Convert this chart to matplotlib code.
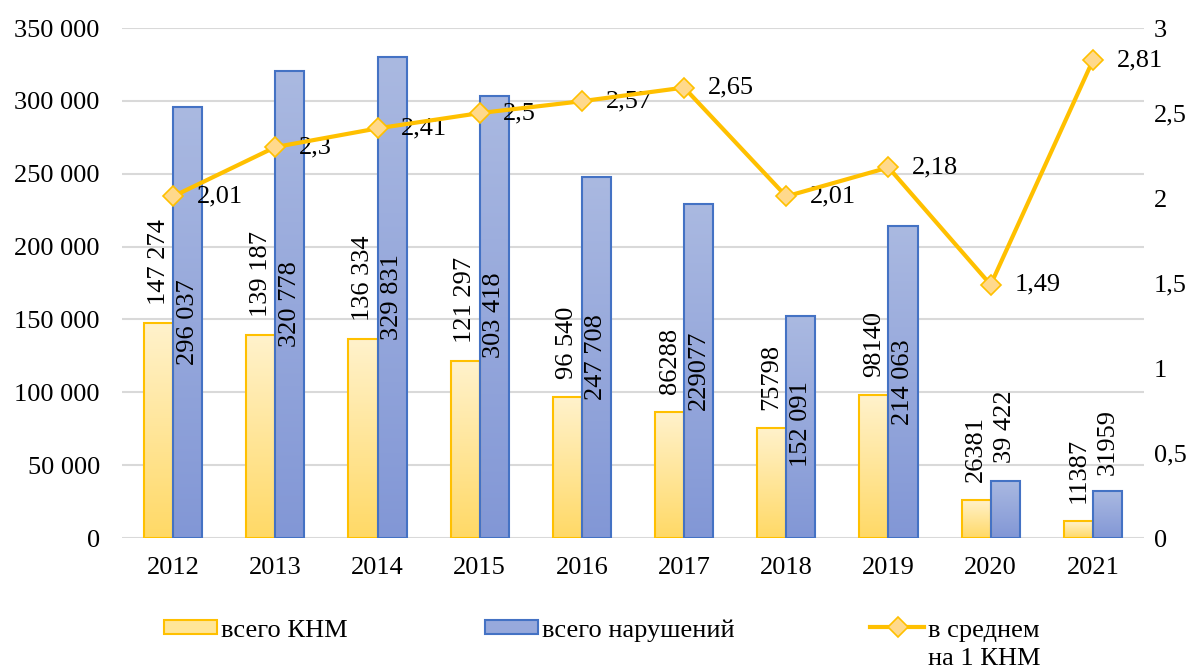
import numpy as np
import matplotlib
matplotlib.use('Agg')
import matplotlib.pyplot as plt
from matplotlib.colors import LinearSegmentedColormap
from matplotlib.lines import Line2D
from matplotlib.patches import Rectangle

years = ['2012', '2013', '2014', '2015', '2016', '2017', '2018', '2019', '2020', '2021']
knm = [147274, 139187, 136334, 121297, 96540, 86288, 75798, 98140, 26381, 11387]
violations = [296037, 320778, 329831, 303418, 247708, 229077, 152091, 214063, 39422, 31959]
avg_per_knm = [2.01, 2.3, 2.41, 2.5, 2.57, 2.65, 2.01, 2.18, 1.49, 2.81]

# label texts as printed on the original chart
knm_labels = ['147 274', '139 187', '136 334', '121 297', '96 540', '86288', '75798', '98140', '26381', '11387']
viol_labels = ['296 037', '320 778', '329 831', '303 418', '247 708', '229077', '152 091', '214 063', '39 422', '31959']
avg_labels = ['2,01', '2,3', '2,41', '2,5', '2,57', '2,65', '2,01', '2,18', '1,49', '2,81']
# where the hand-placed violation labels start (value axis units)
viol_label_pos = [118700, 131000, 135900, 123500, 94700, 87800, 48700, 77500, 51500, 43200]

plt.rcParams['font.family'] = ['Liberation Serif', 'DejaVu Serif']
plt.rcParams['font.size'] = 19

W, H = 1200, 669
fig = plt.figure(figsize=(W / 100, H / 100), dpi=100)
ax = fig.add_axes([0.1017, 0.1958, 0.8516, 0.7622])

x = np.arange(len(years))
w = 0.285

yel_cm = LinearSegmentedColormap.from_list('yel', ['#FFD966', '#FFF2CC'])
blu_cm = LinearSegmentedColormap.from_list('blu', ['#8297D6', '#AAB9E1'])
grad = np.linspace(0, 1, 256).reshape(-1, 1)

bars1 = ax.bar(x - w / 2, knm, w, facecolor='none', edgecolor='#FFC000', linewidth=1.5, zorder=3)
bars2 = ax.bar(x + w / 2, violations, w, facecolor='none', edgecolor='#4472C4', linewidth=1.5, zorder=3)

for bars, cm in [(bars1, yel_cm), (bars2, blu_cm)]:
    for b in bars:
        x0, h = b.get_x(), b.get_height()
        im = ax.imshow(grad, extent=[x0, x0 + b.get_width(), 0, h], cmap=cm,
                       aspect='auto', origin='lower', zorder=2)
        im.set_clip_path(b)

ax.set_xlim(-0.5, len(years) - 0.5)
ax.set_ylim(0, 350000)
ax.set_yticks(np.arange(0, 350001, 50000))
ax.set_yticklabels(['{:,}'.format(v).replace(',', ' ') for v in range(0, 350001, 50000)])
ax.set_xticks(x)
ax.set_xticklabels(years)
ax.grid(axis='y', color='#D9D9D9', linewidth=1.5, zorder=0)
ax.set_axisbelow(True)
for s in ax.spines.values():
    s.set_visible(False)
ax.tick_params(axis='y', length=0, pad=16)
ax.tick_params(axis='x', length=0, pad=14)

for i in range(len(years)):
    ax.annotate(knm_labels[i], (x[i] - w / 2, knm[i]), xytext=(0, 13), textcoords='offset points',
                rotation=90, ha='center', va='bottom', zorder=5)
    ax.text(x[i] + w / 2, viol_label_pos[i], viol_labels[i], rotation=90,
            ha='center', va='bottom', zorder=5)

ax2 = ax.twinx()
ax2.set_position(ax.get_position())
ax2.plot(x, avg_per_knm, color='#FFC000', linewidth=3, marker='D', markersize=10,
         markerfacecolor='#FFD98C', markeredgecolor='#FFC000', markeredgewidth=1.2, zorder=4)
ax2.set_ylim(0, 3)
ax2.set_yticks([0, 0.5, 1, 1.5, 2, 2.5, 3])
ax2.set_yticklabels(['0', '0,5', '1', '1,5', '2', '2,5', '3'])
ax2.tick_params(axis='y', length=0, pad=7)
for s in ax2.spines.values():
    s.set_visible(False)
for i in range(len(years)):
    ax2.annotate(avg_labels[i], (x[i], avg_per_knm[i]), xytext=(17, 0), textcoords='offset points',
                 ha='left', va='center')

# legend drawn by hand so the two-line entry lines up like the original
def fx(px):
    return px / W

def fy(py):
    return 1 - py / H

fig.patches.append(Rectangle((fx(164), fy(634)), fx(53), 14 / H, transform=fig.transFigure,
                             facecolor='#FFE699', edgecolor='#FFC000', linewidth=1.5))
fig.text(fx(221), fy(637), 'всего КНМ', va='baseline', ha='left')
fig.patches.append(Rectangle((fx(485), fy(634)), fx(53), 14 / H, transform=fig.transFigure,
                             facecolor='#97A9DC', edgecolor='#4472C4', linewidth=1.5))
fig.text(fx(542), fy(637), 'всего нарушений', va='baseline', ha='left')
fig.lines.append(Line2D([fx(870), fx(924)], [fy(627), fy(627)], transform=fig.transFigure,
                        color='#FFC000', linewidth=3))
fig.lines.append(Line2D([fx(898)], [fy(627)], transform=fig.transFigure, linestyle='none',
                        marker='D', markersize=10, markerfacecolor='#FFD98C',
                        markeredgecolor='#FFC000', markeredgewidth=1.2))
fig.text(fx(928), fy(637), 'в среднем', va='baseline', ha='left')
fig.text(fx(928), fy(665), 'на 1 КНМ', va='baseline', ha='left')

fig.savefig('out.png', dpi=100)
